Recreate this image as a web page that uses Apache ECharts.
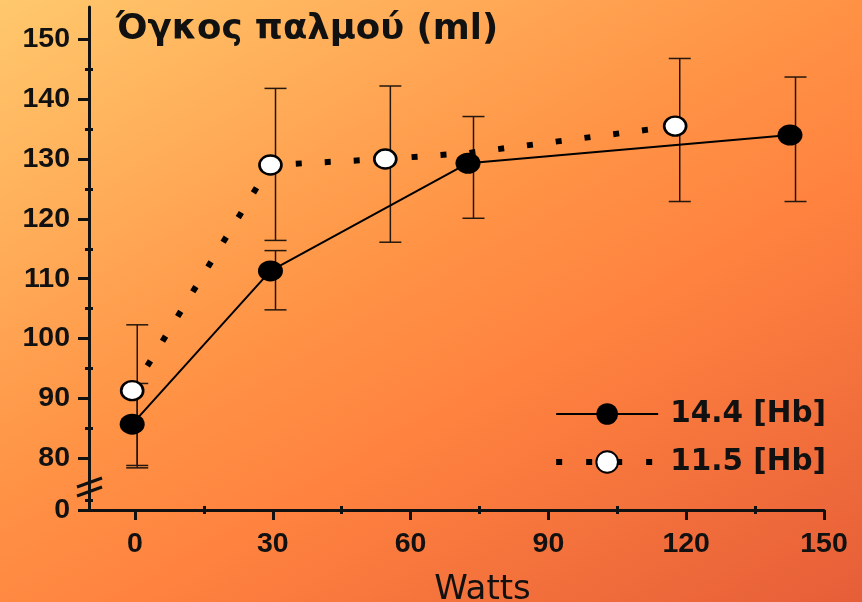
<!DOCTYPE html>
<html>
<head>
<meta charset="utf-8">
<script src="https://cdn.jsdelivr.net/npm/echarts@6/dist/echarts.min.js"></script>
<style>html,body{margin:0;padding:0;}#c{width:862px;height:602px;}</style>
</head>
<body>
<div id="c"></div>
<script>
// ---- data ----
const seriesNames = ['14.4 [Hb]', '11.5 [Hb]'];
// 14.4 [Hb] (filled)
const blackX = [-0.6, 29.5, 72.5, 142.6];
const blackY = [85.7, 111.3, 129.3, 134.0];
const blackErrX = [0.5, 30.6, 73.7, 143.8];
const blackLow = [78.4, 104.8, 120.1, 122.9];
const blackHigh = [92.5, 114.7, 137.1, 143.7];
// 11.5 [Hb] (open)
const whiteX = [-0.6, 29.5, 54.5, 72.5, 117.6];
const whiteY = [91.3, 129.0, 130.0, 131.0, 135.5];
const whiteShown = [true, true, true, false, true];
const whiteErrX = [0.5, 30.6, 55.6, 118.6];
const whiteLow = [78.8, 116.4, 116.1, 122.9];
const whiteHigh = [102.3, 141.8, 142.2, 146.8];
// axes
const xTicks = [0, 30, 60, 90, 120, 150];
const xMinor = [15, 45, 75, 105, 135];
const yZero = 71.36;            // position standing for "0" below the break
const yTicks = [yZero, 80, 90, 100, 110, 120, 130, 140, 150];
const yMinor = [73, 85, 95, 105, 115, 125, 135, 145];
const breakVals = [75.96, 74.45];

const chart = echarts.init(document.getElementById('c'));
const ink = '#111';
const labelFont = {fontFamily: 'Liberation Sans, Arial, sans-serif', fontWeight: 'bold', fontSize: 28.5, color: ink};

function errSeries(xs, lo, hi) {
  return {
    type: 'custom', xAxisIndex: 0, yAxisIndex: 0, z: 1, silent: true,
    data: xs.map((x, i) => [x, lo[i], hi[i]]),
    renderItem: function (params, api) {
      const pLo = api.coord([api.value(0), api.value(1)]);
      const pHi = api.coord([api.value(0), api.value(2)]);
      const w = 11;
      const st = {stroke: '#24170e', lineWidth: 1.5};
      return {type: 'group', children: [
        {type: 'line', shape: {x1: pLo[0], y1: pLo[1], x2: pHi[0], y2: pHi[1]}, style: st},
        {type: 'line', shape: {x1: pLo[0] - w, y1: pLo[1], x2: pLo[0] + w, y2: pLo[1]}, style: st},
        {type: 'line', shape: {x1: pHi[0] - w, y1: pHi[1], x2: pHi[0] + w, y2: pHi[1]}, style: st}
      ]};
    }
  };
}

const option = {
  animation: false,
  backgroundColor: new echarts.graphic.LinearGradient(0, 0, 0.556, 1.367, [
    {offset: 0, color: '#FFC86C'},
    {offset: 0.45, color: '#FF9245'},
    {offset: 0.62, color: '#FF823F'},
    {offset: 1, color: '#E65E38'}
  ]),
  title: {
    text: 'Όγκος παλμού (ml)', left: 111, top: 7,
    textStyle: {fontFamily: 'DejaVu Sans, sans-serif', fontWeight: 'bold', fontSize: 35.5, color: ink}
  },
  legend: {
    data: [
      {name: seriesNames[0], lineStyle: {width: 2}},
      {name: seriesNames[1], lineStyle: {width: 6, type: [6, 24], cap: 'butt'}}
    ],
    orient: 'vertical', right: 31, top: 394,
    itemWidth: 102, itemHeight: 27, itemGap: 18,
    textStyle: {fontFamily: 'DejaVu Sans, sans-serif', fontWeight: 'bold', fontSize: 29.5, color: ink, padding: [0, 0, 0, 7]}
  },
  grid: {left: 89, right: 38, top: 7, bottom: 92, outerBoundsMode: 'none', containLabel: false},
  xAxis: [{
    type: 'value', min: -10, max: 150,
    name: 'Watts', nameLocation: 'middle', nameGap: 63,
    nameTextStyle: {fontFamily: 'DejaVu Sans, sans-serif', fontSize: 34, color: ink, padding: [0, 0, 0, 52]},
    axisLine: {show: true, onZero: false, lineStyle: {color: ink, width: 3}},
    axisTick: {show: true, customValues: xTicks, length: 10, lineStyle: {color: ink, width: 3}},
    axisLabel: Object.assign({customValues: xTicks, margin: 20}, labelFont),
    splitLine: {show: false}
  }, {
    type: 'value', min: -10, max: 150, position: 'bottom', offset: -4,
    axisLine: {show: false, onZero: false},
    axisTick: {show: true, customValues: xMinor, length: 8, lineStyle: {color: ink, width: 3}},
    axisLabel: {show: false}, splitLine: {show: false}
  }],
  yAxis: [{
    type: 'value', min: yZero, max: 155.4,
    axisLine: {show: true, onZero: false, lineStyle: {color: ink, width: 3}},
    axisTick: {show: true, customValues: yTicks, length: 11, lineStyle: {color: ink, width: 3}},
    axisLabel: Object.assign({customValues: yTicks, margin: 19,
      formatter: v => (v < 75 ? '0' : String(Math.round(v)))}, labelFont),
    splitLine: {show: false}
  }, {
    type: 'value', min: yZero, max: 155.4, position: 'left', offset: -4,
    axisLine: {show: false, onZero: false},
    axisTick: {show: true, customValues: yMinor, length: 8, lineStyle: {color: ink, width: 3}},
    axisLabel: {show: false}, splitLine: {show: false}
  }],
  series: [
    errSeries(blackErrX, blackLow, blackHigh),
    errSeries(whiteErrX, whiteLow, whiteHigh),
    {
      name: seriesNames[1], type: 'line', z: 3,
      data: whiteX.map((x, i) => ({value: [x, whiteY[i]], symbolSize: whiteShown[i] ? [22, 19] : 0})),
      symbol: 'circle',
      lineStyle: {color: '#000', width: 6, type: [6, 23], cap: 'butt'},
      itemStyle: {color: '#fff', borderColor: '#000', borderWidth: 2.5, opacity: 1}
    },
    {
      name: seriesNames[0], type: 'line', z: 4,
      data: blackX.map((x, i) => [x, blackY[i]]),
      symbol: 'circle', symbolSize: [25, 21],
      lineStyle: {color: '#000', width: 2},
      itemStyle: {color: '#000', borderColor: '#000', borderWidth: 0, opacity: 1}
    }
  ]
};
chart.setOption(option);

// axis-break slashes on the y axis
const ax = chart.convertToPixel({xAxisIndex: 0}, -10);
const slashes = breakVals.map(v => {
  const y = chart.convertToPixel({yAxisIndex: 0}, v);
  return {type: 'line', z: 10, shape: {x1: ax - 12, y1: y + 4.5, x2: ax + 13, y2: y - 4.5},
          style: {stroke: ink, lineWidth: 3}};
});
chart.setOption({graphic: slashes});
</script>
</body>
</html>
